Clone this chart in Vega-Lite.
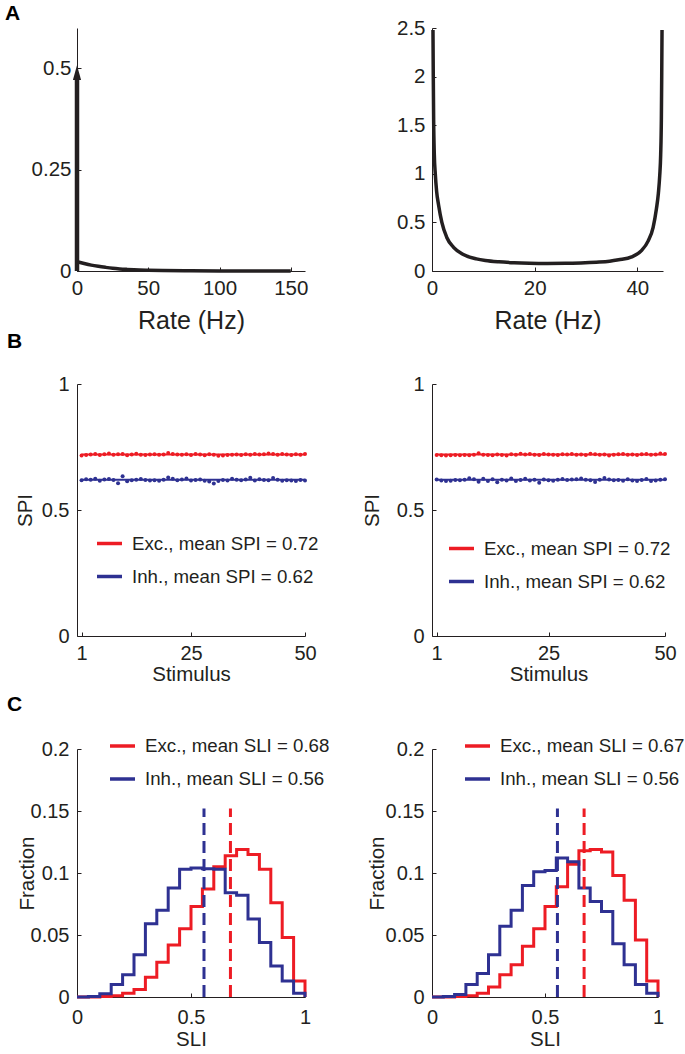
{
"$schema":"https://vega.github.io/schema/vega-lite/v6.json",
"padding":{"left":5,"top":3,"right":0,"bottom":4},
"bounds":"flush",
"columns":2,
"spacing":{"row":113,"column":127},
"resolve":{"scale":{"color":"independent","fill":"independent","stroke":"independent","x":"independent","y":"independent"},"legend":{"color":"independent"}},
"config":{
 "font":"Liberation Sans",
 "view":{"stroke":null},
 "axis":{"grid":false,"domainColor":"#231f20","tickColor":"#231f20","labelColor":"#231f20","titleColor":"#231f20","tickSize":-4,"labelFont":"Liberation Sans","titleFont":"Liberation Sans","labelFontSize":20,"titleFontSize":20.5,"titleFontWeight":"normal","labelFlush":false,"labelOverlap":false,"domainWidth":1,"tickWidth":1},
 "legend":{"orient":"none","symbolType":"stroke","symbolSize":625,"symbolStrokeWidth":3.5,"labelFontSize":18.7,"labelFont":"Liberation Sans","labelColor":"#231f20","rowPadding":8,"labelOffset":8,"padding":0,"labelLimit":400},
 "title":{"fontSize":21,"fontWeight":"bold","anchor":"start","frame":"group","offset":0,"color":"#000000","font":"Liberation Sans"}
},
"datasets":{
 "a1":[{"rate":0,"density":0.023},{"rate":5,"density":0.0185},{"rate":10,"density":0.0145},{"rate":15,"density":0.0115},{"rate":20,"density":0.009},{"rate":25,"density":0.0068},{"rate":30,"density":0.0052},{"rate":35,"density":0.004},{"rate":40,"density":0.003},{"rate":50,"density":0.0018},{"rate":60,"density":0.001},{"rate":80,"density":0.0004},{"rate":100,"density":0.0001},{"rate":150,"density":0}],
 "a1spike":[{"rate":0,"base":0,"peak":0.48,"head":0.49}],
 "a2":[{"rate":0.19,"density":2.48},{"rate":0.25,"density":2.0},{"rate":0.32,"density":1.56},{"rate":0.45,"density":1.2},{"rate":0.64,"density":1.0},{"rate":0.9,"density":0.82},{"rate":1.28,"density":0.68},{"rate":1.92,"density":0.5},{"rate":2.88,"density":0.345},{"rate":4.2,"density":0.244},{"rate":6.1,"density":0.17},{"rate":8.65,"density":0.125},{"rate":10.4,"density":0.108},{"rate":13,"density":0.094},{"rate":16,"density":0.085},{"rate":19,"density":0.08},{"rate":22.5,"density":0.078},{"rate":26,"density":0.079},{"rate":29,"density":0.083},{"rate":32,"density":0.09},{"rate":34.6,"density":0.1},{"rate":36.35,"density":0.115},{"rate":38.9,"density":0.145},{"rate":40.8,"density":0.21},{"rate":42.12,"density":0.31},{"rate":43.08,"density":0.45},{"rate":43.72,"density":0.64},{"rate":44.1,"density":0.8},{"rate":44.36,"density":0.98},{"rate":44.55,"density":1.2},{"rate":44.68,"density":1.56},{"rate":44.75,"density":2.0},{"rate":44.81,"density":2.48}],
 "b1":[{"stim":1,"e":0.716,"i":0.618},{"stim":2,"e":0.718,"i":0.622},{"stim":3,"e":0.720,"i":0.620},{"stim":4,"e":0.722,"i":0.624},{"stim":5,"e":0.718,"i":0.616},{"stim":6,"e":0.721,"i":0.621},{"stim":7,"e":0.724,"i":0.623},{"stim":8,"e":0.719,"i":0.619},{"stim":9,"e":0.721,"i":0.606},{"stim":10,"e":0.722,"i":0.634},{"stim":11,"e":0.717,"i":0.614},{"stim":12,"e":0.720,"i":0.618},{"stim":13,"e":0.723,"i":0.620},{"stim":14,"e":0.719,"i":0.623},{"stim":15,"e":0.718,"i":0.619},{"stim":16,"e":0.720,"i":0.617},{"stim":17,"e":0.721,"i":0.618},{"stim":18,"e":0.719,"i":0.616},{"stim":19,"e":0.720,"i":0.620},{"stim":20,"e":0.726,"i":0.629},{"stim":21,"e":0.722,"i":0.624},{"stim":22,"e":0.720,"i":0.618},{"stim":23,"e":0.719,"i":0.621},{"stim":24,"e":0.721,"i":0.625},{"stim":25,"e":0.718,"i":0.617},{"stim":26,"e":0.722,"i":0.619},{"stim":27,"e":0.720,"i":0.621},{"stim":28,"e":0.717,"i":0.616},{"stim":29,"e":0.721,"i":0.613},{"stim":30,"e":0.719,"i":0.605},{"stim":31,"e":0.715,"i":0.615},{"stim":32,"e":0.716,"i":0.619},{"stim":33,"e":0.718,"i":0.617},{"stim":34,"e":0.719,"i":0.624},{"stim":35,"e":0.720,"i":0.620},{"stim":36,"e":0.718,"i":0.618},{"stim":37,"e":0.721,"i":0.621},{"stim":38,"e":0.719,"i":0.628},{"stim":39,"e":0.722,"i":0.617},{"stim":40,"e":0.720,"i":0.622},{"stim":41,"e":0.721,"i":0.619},{"stim":42,"e":0.724,"i":0.618},{"stim":43,"e":0.722,"i":0.627},{"stim":44,"e":0.719,"i":0.620},{"stim":45,"e":0.722,"i":0.616},{"stim":46,"e":0.720,"i":0.618},{"stim":47,"e":0.718,"i":0.617},{"stim":48,"e":0.721,"i":0.615},{"stim":49,"e":0.719,"i":0.619},{"stim":50,"e":0.722,"i":0.617}],
 "b2":[{"stim":1,"e":0.718,"i":0.621},{"stim":2,"e":0.717,"i":0.617},{"stim":3,"e":0.716,"i":0.615},{"stim":4,"e":0.717,"i":0.616},{"stim":5,"e":0.718,"i":0.619},{"stim":6,"e":0.717,"i":0.618},{"stim":7,"e":0.718,"i":0.620},{"stim":8,"e":0.717,"i":0.626},{"stim":9,"e":0.719,"i":0.622},{"stim":10,"e":0.725,"i":0.612},{"stim":11,"e":0.719,"i":0.624},{"stim":12,"e":0.718,"i":0.615},{"stim":13,"e":0.717,"i":0.622},{"stim":14,"e":0.720,"i":0.610},{"stim":15,"e":0.718,"i":0.620},{"stim":16,"e":0.716,"i":0.617},{"stim":17,"e":0.721,"i":0.625},{"stim":18,"e":0.719,"i":0.615},{"stim":19,"e":0.723,"i":0.619},{"stim":20,"e":0.720,"i":0.624},{"stim":21,"e":0.722,"i":0.617},{"stim":22,"e":0.719,"i":0.620},{"stim":23,"e":0.718,"i":0.608},{"stim":24,"e":0.722,"i":0.621},{"stim":25,"e":0.720,"i":0.618},{"stim":26,"e":0.719,"i":0.616},{"stim":27,"e":0.718,"i":0.620},{"stim":28,"e":0.721,"i":0.623},{"stim":29,"e":0.720,"i":0.619},{"stim":30,"e":0.722,"i":0.621},{"stim":31,"e":0.719,"i":0.622},{"stim":32,"e":0.720,"i":0.625},{"stim":33,"e":0.718,"i":0.620},{"stim":34,"e":0.723,"i":0.618},{"stim":35,"e":0.721,"i":0.611},{"stim":36,"e":0.719,"i":0.620},{"stim":37,"e":0.720,"i":0.627},{"stim":38,"e":0.716,"i":0.621},{"stim":39,"e":0.719,"i":0.618},{"stim":40,"e":0.721,"i":0.619},{"stim":41,"e":0.722,"i":0.616},{"stim":42,"e":0.719,"i":0.622},{"stim":43,"e":0.720,"i":0.617},{"stim":44,"e":0.718,"i":0.615},{"stim":45,"e":0.721,"i":0.619},{"stim":46,"e":0.722,"i":0.623},{"stim":47,"e":0.719,"i":0.615},{"stim":48,"e":0.720,"i":0.617},{"stim":49,"e":0.724,"i":0.620},{"stim":50,"e":0.722,"i":0.622}],
 "b1mean":[{"s":"Exc., mean SPI = 0.72","mean":0.72},{"s":"Inh., mean SPI = 0.62","mean":0.62}],
 "b2mean":[{"s":"Exc., mean SPI = 0.72","mean":0.72},{"s":"Inh., mean SPI = 0.62","mean":0.62}],
 "c1":[
  {"s":"Exc., mean SLI = 0.68","sli":0,"fraction":0},{"s":"Exc., mean SLI = 0.68","sli":0.05,"fraction":0},{"s":"Exc., mean SLI = 0.68","sli":0.1,"fraction":0.0005},{"s":"Exc., mean SLI = 0.68","sli":0.15,"fraction":0.001},{"s":"Exc., mean SLI = 0.68","sli":0.2,"fraction":0.003},{"s":"Exc., mean SLI = 0.68","sli":0.25,"fraction":0.006},{"s":"Exc., mean SLI = 0.68","sli":0.3,"fraction":0.016},{"s":"Exc., mean SLI = 0.68","sli":0.35,"fraction":0.028},{"s":"Exc., mean SLI = 0.68","sli":0.4,"fraction":0.042},{"s":"Exc., mean SLI = 0.68","sli":0.45,"fraction":0.055},{"s":"Exc., mean SLI = 0.68","sli":0.5,"fraction":0.073},{"s":"Exc., mean SLI = 0.68","sli":0.55,"fraction":0.087},{"s":"Exc., mean SLI = 0.68","sli":0.6,"fraction":0.105},{"s":"Exc., mean SLI = 0.68","sli":0.65,"fraction":0.114},{"s":"Exc., mean SLI = 0.68","sli":0.7,"fraction":0.119},{"s":"Exc., mean SLI = 0.68","sli":0.75,"fraction":0.115},{"s":"Exc., mean SLI = 0.68","sli":0.8,"fraction":0.103},{"s":"Exc., mean SLI = 0.68","sli":0.85,"fraction":0.076},{"s":"Exc., mean SLI = 0.68","sli":0.9,"fraction":0.048},{"s":"Exc., mean SLI = 0.68","sli":0.95,"fraction":0.013},{"s":"Exc., mean SLI = 0.68","sli":1,"fraction":0},
  {"s":"Inh., mean SLI = 0.56","sli":0,"fraction":0},{"s":"Inh., mean SLI = 0.56","sli":0.05,"fraction":0.0005},{"s":"Inh., mean SLI = 0.56","sli":0.1,"fraction":0.0027},{"s":"Inh., mean SLI = 0.56","sli":0.15,"fraction":0.010},{"s":"Inh., mean SLI = 0.56","sli":0.2,"fraction":0.018},{"s":"Inh., mean SLI = 0.56","sli":0.25,"fraction":0.034},{"s":"Inh., mean SLI = 0.56","sli":0.3,"fraction":0.059},{"s":"Inh., mean SLI = 0.56","sli":0.35,"fraction":0.070},{"s":"Inh., mean SLI = 0.56","sli":0.4,"fraction":0.088},{"s":"Inh., mean SLI = 0.56","sli":0.45,"fraction":0.103},{"s":"Inh., mean SLI = 0.56","sli":0.5,"fraction":0.104},{"s":"Inh., mean SLI = 0.56","sli":0.55,"fraction":0.1035},{"s":"Inh., mean SLI = 0.56","sli":0.6,"fraction":0.103},{"s":"Inh., mean SLI = 0.56","sli":0.65,"fraction":0.084},{"s":"Inh., mean SLI = 0.56","sli":0.7,"fraction":0.082},{"s":"Inh., mean SLI = 0.56","sli":0.75,"fraction":0.063},{"s":"Inh., mean SLI = 0.56","sli":0.8,"fraction":0.044},{"s":"Inh., mean SLI = 0.56","sli":0.85,"fraction":0.025},{"s":"Inh., mean SLI = 0.56","sli":0.9,"fraction":0.013},{"s":"Inh., mean SLI = 0.56","sli":0.95,"fraction":0.003},{"s":"Inh., mean SLI = 0.56","sli":1,"fraction":0}],
 "c2":[
  {"s":"Exc., mean SLI = 0.67","sli":0,"fraction":0},{"s":"Exc., mean SLI = 0.67","sli":0.05,"fraction":0},{"s":"Exc., mean SLI = 0.67","sli":0.1,"fraction":0.0005},{"s":"Exc., mean SLI = 0.67","sli":0.15,"fraction":0.001},{"s":"Exc., mean SLI = 0.67","sli":0.2,"fraction":0.003},{"s":"Exc., mean SLI = 0.67","sli":0.25,"fraction":0.008},{"s":"Exc., mean SLI = 0.67","sli":0.3,"fraction":0.018},{"s":"Exc., mean SLI = 0.67","sli":0.35,"fraction":0.026},{"s":"Exc., mean SLI = 0.67","sli":0.4,"fraction":0.041},{"s":"Exc., mean SLI = 0.67","sli":0.45,"fraction":0.055},{"s":"Exc., mean SLI = 0.67","sli":0.5,"fraction":0.073},{"s":"Exc., mean SLI = 0.67","sli":0.55,"fraction":0.089},{"s":"Exc., mean SLI = 0.67","sli":0.6,"fraction":0.107},{"s":"Exc., mean SLI = 0.67","sli":0.65,"fraction":0.118},{"s":"Exc., mean SLI = 0.67","sli":0.7,"fraction":0.119},{"s":"Exc., mean SLI = 0.67","sli":0.75,"fraction":0.117},{"s":"Exc., mean SLI = 0.67","sli":0.8,"fraction":0.098},{"s":"Exc., mean SLI = 0.67","sli":0.85,"fraction":0.078},{"s":"Exc., mean SLI = 0.67","sli":0.9,"fraction":0.046},{"s":"Exc., mean SLI = 0.67","sli":0.95,"fraction":0.013},{"s":"Exc., mean SLI = 0.67","sli":1,"fraction":0},
  {"s":"Inh., mean SLI = 0.56","sli":0,"fraction":0},{"s":"Inh., mean SLI = 0.56","sli":0.05,"fraction":0.0005},{"s":"Inh., mean SLI = 0.56","sli":0.1,"fraction":0.002},{"s":"Inh., mean SLI = 0.56","sli":0.15,"fraction":0.010},{"s":"Inh., mean SLI = 0.56","sli":0.2,"fraction":0.019},{"s":"Inh., mean SLI = 0.56","sli":0.25,"fraction":0.034},{"s":"Inh., mean SLI = 0.56","sli":0.3,"fraction":0.057},{"s":"Inh., mean SLI = 0.56","sli":0.35,"fraction":0.070},{"s":"Inh., mean SLI = 0.56","sli":0.4,"fraction":0.090},{"s":"Inh., mean SLI = 0.56","sli":0.45,"fraction":0.101},{"s":"Inh., mean SLI = 0.56","sli":0.5,"fraction":0.102},{"s":"Inh., mean SLI = 0.56","sli":0.55,"fraction":0.112},{"s":"Inh., mean SLI = 0.56","sli":0.6,"fraction":0.109},{"s":"Inh., mean SLI = 0.56","sli":0.65,"fraction":0.088},{"s":"Inh., mean SLI = 0.56","sli":0.7,"fraction":0.077},{"s":"Inh., mean SLI = 0.56","sli":0.75,"fraction":0.069},{"s":"Inh., mean SLI = 0.56","sli":0.8,"fraction":0.043},{"s":"Inh., mean SLI = 0.56","sli":0.85,"fraction":0.026},{"s":"Inh., mean SLI = 0.56","sli":0.9,"fraction":0.010},{"s":"Inh., mean SLI = 0.56","sli":0.95,"fraction":0.003},{"s":"Inh., mean SLI = 0.56","sli":1,"fraction":0}],
 "c1mean":[{"s":"e","mean":0.673},{"s":"i","mean":0.557}],
 "c2mean":[{"s":"e","mean":0.673},{"s":"i","mean":0.555}]
},
"concat":[
 {"width":228,"height":243,
  "title":{"text":"A","dx":-72,"dy":0},
  "layer":[
   {"data":{"name":"a1"},"mark":{"type":"line","color":"#231f20","strokeWidth":3.5,"interpolate":"monotone"},
    "encoding":{"x":{"field":"rate","type":"quantitative","scale":{"domain":[0,150]},"axis":{"values":[0,50,100,150],"title":"Rate (Hz)","titleFontSize":25,"labelFontSize":20.5,"labelPadding":11,"titlePadding":10}},
     "y":{"field":"density","type":"quantitative","scale":{"domain":[0,0.6]},"axis":{"values":[0,0.25,0.5],"format":".2~f","title":null,"labelFontSize":20.5,"labelPadding":10}}}},
   {"data":{"name":"a1spike"},"mark":{"type":"rule","color":"#231f20","strokeWidth":4.5},
    "encoding":{"x":{"field":"rate","type":"quantitative"},"y":{"field":"base","type":"quantitative"},"y2":{"field":"peak"}}},
   {"data":{"name":"a1spike"},"mark":{"type":"point","shape":"M0,-1L-0.55,1L0.55,1Z","filled":true,"color":"#231f20","size":220,"opacity":1},
    "encoding":{"x":{"field":"rate","type":"quantitative"},"y":{"field":"head","type":"quantitative"}}}
  ]},
 {"width":231,"height":243,
  "layer":[
   {"data":{"name":"a2"},"mark":{"type":"line","color":"#231f20","strokeWidth":3.5,"interpolate":"monotone"},
    "encoding":{"x":{"field":"rate","type":"quantitative","scale":{"domain":[0,45]},"axis":{"values":[0,20,40],"title":"Rate (Hz)","titleFontSize":25,"labelFontSize":20.5,"labelPadding":11,"titlePadding":10}},
     "y":{"field":"density","type":"quantitative","scale":{"domain":[0,2.5]},"axis":{"values":[0,0.5,1,1.5,2,2.5],"format":".1~f","title":null,"labelFontSize":20.5,"labelPadding":11}}}}
  ]},
 {"width":228,"height":252,
  "title":{"text":"B","dx":-70,"dy":-18},
  "layer":[
   {"data":{"name":"b1mean"},"mark":{"type":"rule","strokeWidth":2},
    "encoding":{"x":{"datum":1,"type":"quantitative"},"x2":{"datum":50},"y":{"field":"mean","type":"quantitative"},
     "color":{"field":"s","type":"nominal","scale":{"domain":["Exc., mean SPI = 0.72","Inh., mean SPI = 0.62"],"range":["#ed1c24","#2e3192"]},"legend":{"title":null,"orient":"none","legendX":18,"legendY":145}}}},
   {"data":{"name":"b1"},"transform":[{"fold":["e","i"],"as":["k","spi"]}],"mark":{"type":"circle","size":16,"opacity":1},
    "encoding":{"x":{"field":"stim","type":"quantitative","scale":{"domain":[1,50]},"axis":{"values":[1,25,50],"title":"Stimulus","labelPadding":11.5,"titlePadding":1}},
     "y":{"field":"spi","type":"quantitative","scale":{"domain":[0,1]},"axis":{"values":[0,0.5,1],"format":".1~f","title":"SPI","labelPadding":12,"titlePadding":6}},
     "fill":{"field":"k","type":"nominal","scale":{"domain":["e","i"],"range":["#ed1c24","#2e3192"]},"legend":null}}}
  ]},
 {"width":233,"height":252,
  "layer":[
   {"data":{"name":"b2mean"},"mark":{"type":"rule","strokeWidth":2},
    "encoding":{"x":{"datum":1,"type":"quantitative"},"x2":{"datum":50},"y":{"field":"mean","type":"quantitative"},
     "color":{"field":"s","type":"nominal","scale":{"domain":["Exc., mean SPI = 0.72","Inh., mean SPI = 0.62"],"range":["#ed1c24","#2e3192"]},"legend":{"title":null,"orient":"none","legendX":15,"legendY":150}}}},
   {"data":{"name":"b2"},"transform":[{"fold":["e","i"],"as":["k","spi"]}],"mark":{"type":"circle","size":16,"opacity":1},
    "encoding":{"x":{"field":"stim","type":"quantitative","scale":{"domain":[1,50]},"axis":{"values":[1,25,50],"title":"Stimulus","labelPadding":11.5,"titlePadding":1}},
     "y":{"field":"spi","type":"quantitative","scale":{"domain":[0,1]},"axis":{"values":[0,0.5,1],"format":".1~f","title":"SPI","labelPadding":12,"titlePadding":14}},
     "fill":{"field":"k","type":"nominal","scale":{"domain":["e","i"],"range":["#ed1c24","#2e3192"]},"legend":null}}}
  ]},
 {"width":228,"height":248,
  "title":{"text":"C","dx":-70,"dy":-13},
  "layer":[
   {"data":{"name":"c1"},"mark":{"type":"line","interpolate":"step-after","strokeWidth":3},
    "encoding":{"x":{"field":"sli","type":"quantitative","scale":{"domain":[0,1]},"axis":{"values":[0,0.5,1],"format":".1~f","title":"SLI","labelPadding":14,"titlePadding":2}},
     "y":{"field":"fraction","type":"quantitative","scale":{"domain":[0,0.2]},"axis":{"values":[0,0.05,0.1,0.15,0.2],"format":".2~f","title":"Fraction","labelPadding":12,"titlePadding":-7}},
     "color":{"field":"s","type":"nominal","scale":{"domain":["Exc., mean SLI = 0.68","Inh., mean SLI = 0.56"],"range":["#ed1c24","#2e3192"]},"legend":{"title":null,"orient":"none","legendX":31,"legendY":-17.5}}}},
   {"data":{"name":"c1mean"},"mark":{"type":"rule","strokeWidth":3,"strokeDash":[12,6]},
    "encoding":{"x":{"field":"mean","type":"quantitative"},"y":{"datum":0,"type":"quantitative"},"y2":{"datum":0.152},
     "stroke":{"field":"s","type":"nominal","scale":{"domain":["e","i"],"range":["#ed1c24","#2e3192"]},"legend":null}}}
  ]},
 {"width":226,"height":248,
  "layer":[
   {"data":{"name":"c2"},"mark":{"type":"line","interpolate":"step-after","strokeWidth":3},
    "encoding":{"x":{"field":"sli","type":"quantitative","scale":{"domain":[0,1]},"axis":{"values":[0,0.5,1],"format":".1~f","title":"SLI","labelPadding":14,"titlePadding":2}},
     "y":{"field":"fraction","type":"quantitative","scale":{"domain":[0,0.2]},"axis":{"values":[0,0.05,0.1,0.15,0.2],"format":".2~f","title":"Fraction","labelPadding":12,"titlePadding":-2}},
     "color":{"field":"s","type":"nominal","scale":{"domain":["Exc., mean SLI = 0.67","Inh., mean SLI = 0.56"],"range":["#ed1c24","#2e3192"]},"legend":{"title":null,"orient":"none","legendX":31,"legendY":-17.5}}}},
   {"data":{"name":"c2mean"},"mark":{"type":"rule","strokeWidth":3,"strokeDash":[12,6]},
    "encoding":{"x":{"field":"mean","type":"quantitative"},"y":{"datum":0,"type":"quantitative"},"y2":{"datum":0.152},
     "stroke":{"field":"s","type":"nominal","scale":{"domain":["e","i"],"range":["#ed1c24","#2e3192"]},"legend":null}}}
  ]}
]
}
